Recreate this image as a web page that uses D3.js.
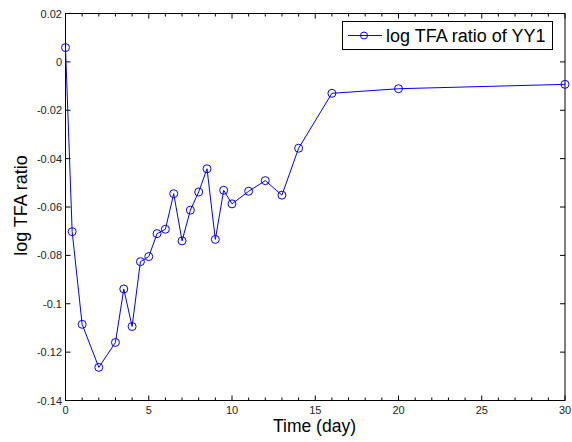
<!DOCTYPE html>
<html>
<head>
<meta charset="utf-8">
<script src="https://cdn.jsdelivr.net/npm/d3@7"></script>
<style>
  body { margin: 0; background: #fff; }
  svg { display: block; font-family: "Liberation Sans", Arial, sans-serif; }
</style>
</head>
<body>
<svg id="chart" width="572" height="442"></svg>
<script>
// Data
const days = [0, 0.4, 1, 2, 3, 3.5, 4, 4.5, 5, 5.5, 6, 6.5, 7, 7.5, 8, 8.5, 9, 9.5, 10, 11, 12, 13, 14, 16, 20, 30];
const logRatio = [0.0059, -0.0702, -0.1085, -0.1263, -0.1160, -0.0939, -0.1094, -0.0826, -0.0805,
  -0.0710, -0.0692, -0.0545, -0.0740, -0.0613, -0.0538, -0.0442, -0.0734, -0.0531, -0.0587,
  -0.0535, -0.0491, -0.0551, -0.0357, -0.0130, -0.0111, -0.0093];
const xTicks = [0, 5, 10, 15, 20, 25, 30];
const yTicks = [0.02, 0, -0.02, -0.04, -0.06, -0.08, -0.1, -0.12, -0.14];
const seriesName = "log TFA ratio of YY1";

const points = days.map((d, i) => ({ t: d, v: logRatio[i] }));

const svg = d3.select("#chart");
const plotLeft = 65.5, plotRight = 565, plotTop = 13.5, plotBottom = 400.5;

const x = d3.scaleLinear().domain([0, 30]).range([plotLeft, plotRight]);
const y = d3.scaleLinear().domain([-0.14, 0.02]).range([plotBottom, plotTop]);

const blue = "#0000ff";

// Box
svg.append("rect")
  .attr("x", plotLeft).attr("y", plotTop)
  .attr("width", plotRight - plotLeft).attr("height", plotBottom - plotTop)
  .attr("fill", "none").attr("stroke", "#000").attr("stroke-width", 1);

// Ticks (inward, on all four sides)
const minorX = d3.range(0, 31, 1).filter(d => d % 5 !== 0);
const tickG = svg.append("g").attr("stroke", "#000").attr("stroke-width", 1);
xTicks.forEach(d => {
  tickG.append("line").attr("x1", x(d)).attr("x2", x(d)).attr("y1", plotBottom).attr("y2", plotBottom - 5);
  tickG.append("line").attr("x1", x(d)).attr("x2", x(d)).attr("y1", plotTop).attr("y2", plotTop + 5);
});
minorX.forEach(d => {
  tickG.append("line").attr("x1", x(d)).attr("x2", x(d)).attr("y1", plotBottom).attr("y2", plotBottom - 3);
  tickG.append("line").attr("x1", x(d)).attr("x2", x(d)).attr("y1", plotTop).attr("y2", plotTop + 3);
});
yTicks.forEach(d => {
  tickG.append("line").attr("x1", plotLeft).attr("x2", plotLeft + 5).attr("y1", y(d)).attr("y2", y(d));
  tickG.append("line").attr("x1", plotRight).attr("x2", plotRight - 5).attr("y1", y(d)).attr("y2", y(d));
});

// Tick labels
svg.append("g").selectAll("text").data(xTicks).join("text")
  .attr("x", d => x(d)).attr("y", 414)
  .attr("text-anchor", "middle").attr("font-size", 11).attr("fill", "#222")
  .text(d => d);

svg.append("g").selectAll("text").data(yTicks).join("text")
  .attr("x", 62).attr("y", d => y(d) + 4)
  .attr("text-anchor", "end").attr("font-size", 11).attr("fill", "#222")
  .text(d => String(+d.toFixed(2)));

// Axis labels
svg.append("text")
  .attr("x", 314.5).attr("y", 432)
  .attr("text-anchor", "middle").attr("font-size", 17.5)
  .text("Time (day)");

svg.append("text")
  .attr("transform", "translate(27,205.5) rotate(-90)")
  .attr("text-anchor", "middle").attr("font-size", 18)
  .text("log TFA ratio");

// Series
const line = d3.line().x(d => x(d.t)).y(d => y(d.v));
svg.append("path").datum(points)
  .attr("d", line).attr("fill", "none")
  .attr("stroke", blue).attr("stroke-width", 1);

svg.append("g").selectAll("circle").data(points).join("circle")
  .attr("cx", d => x(d.t)).attr("cy", d => y(d.v)).attr("r", 4)
  .attr("fill", "none").attr("stroke", blue).attr("stroke-width", 1);

// Legend
const lg = svg.append("g");
lg.append("rect")
  .attr("x", 342.5).attr("y", 21.5).attr("width", 210).attr("height", 28)
  .attr("fill", "#fff").attr("stroke", "#000").attr("stroke-width", 1);
lg.append("line")
  .attr("x1", 348).attr("x2", 382).attr("y1", 35.5).attr("y2", 35.5)
  .attr("stroke", blue).attr("stroke-width", 1);
lg.append("circle")
  .attr("cx", 364).attr("cy", 35.5).attr("r", 3.5)
  .attr("fill", "none").attr("stroke", blue).attr("stroke-width", 1);
lg.append("text")
  .attr("x", 386).attr("y", 42).attr("font-size", 18)
  .text(seriesName);
</script>
</body>
</html>
